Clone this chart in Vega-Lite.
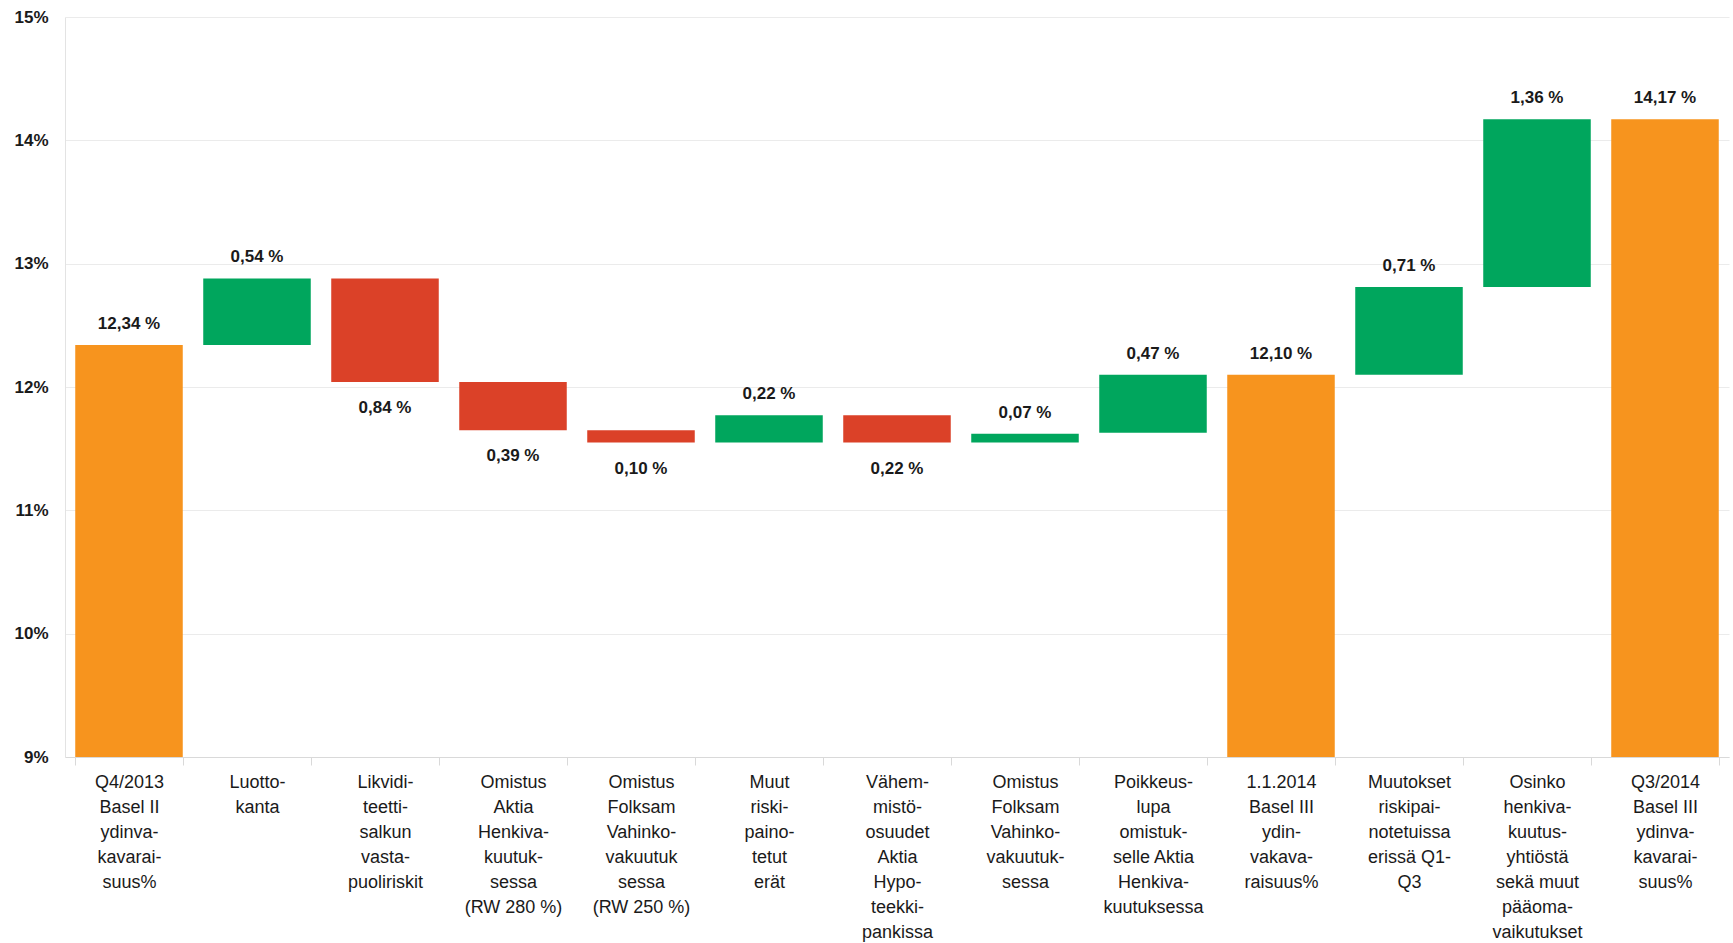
{
  "$schema": "https://vega.github.io/schema/vega-lite/v6.json",
  "width": 1664,
  "height": 740,
  "autosize": {"type": "none"},
  "padding": {"left": 65, "top": 17, "right": 4, "bottom": 186},
  "background": "white",
  "config": {"view": {"stroke": null}, "font": "Liberation Sans"},
  "data": {
    "values": [
      {"cat": "Q4/2013|Basel II|ydinva-|kavarai-|suus%", "start": 0, "end": 12.34, "kind": "total", "lbl": "12,34 %"},
      {"cat": "Luotto-|kanta", "start": 12.34, "end": 12.88, "kind": "pos", "lbl": "0,54 %"},
      {"cat": "Likvidi-|teetti-|salkun|vasta-|puoliriskit", "start": 12.88, "end": 12.04, "kind": "neg", "lbl": "0,84 %"},
      {"cat": "Omistus|Aktia|Henkiva-|kuutuk-|sessa|(RW 280 %)", "start": 12.04, "end": 11.65, "kind": "neg", "lbl": "0,39 %"},
      {"cat": "Omistus|Folksam|Vahinko-|vakuutuk|sessa|(RW 250 %)", "start": 11.65, "end": 11.55, "kind": "neg", "lbl": "0,10 %"},
      {"cat": "Muut|riski-|paino-|tetut|erät", "start": 11.55, "end": 11.77, "kind": "pos", "lbl": "0,22 %"},
      {"cat": "Vähem-|mistö-|osuudet|Aktia|Hypo-|teekki-|pankissa", "start": 11.77, "end": 11.55, "kind": "neg", "lbl": "0,22 %"},
      {"cat": "Omistus|Folksam|Vahinko-|vakuutuk-|sessa", "start": 11.55, "end": 11.62, "kind": "pos", "lbl": "0,07 %"},
      {"cat": "Poikkeus-|lupa|omistuk-|selle Aktia|Henkiva-|kuutuksessa", "start": 11.63, "end": 12.10, "kind": "pos", "lbl": "0,47 %"},
      {"cat": "1.1.2014|Basel III|ydin-|vakava-|raisuus%", "start": 0, "end": 12.10, "kind": "total", "lbl": "12,10 %"},
      {"cat": "Muutokset|riskipai-|notetuissa|erissä Q1-|Q3", "start": 12.10, "end": 12.81, "kind": "pos", "lbl": "0,71 %"},
      {"cat": "Osinko|henkiva-|kuutus-|yhtiöstä|sekä muut|pääoma-|vaikutukset", "start": 12.81, "end": 14.17, "kind": "pos", "lbl": "1,36 %"},
      {"cat": "Q3/2014|Basel III|ydinva-|kavarai-|suus%", "start": 0, "end": 14.17, "kind": "total", "lbl": "14,17 %"}
    ]
  },
  "encoding": {
    "x": {
      "field": "cat",
      "type": "nominal",
      "sort": null,
      "scale": {"paddingInner": 0.16, "paddingOuter": 0.08},
      "axis": {
        "title": null,
        "labelAngle": 0,
        "labelExpr": "isString(datum.value) ? split(datum.value, '|') : ''",
        "labelFont": "Liberation Sans",
        "labelFontSize": 18,
        "labelLineHeight": 25,
        "labelBaseline": "top",
        "labelPadding": 8,
        "labelColor": "#1a1a1a",
        "labelLimit": 200,
        "tickBand": "extent",
        "tickSize": 8,
        "tickColor": "#d9d9d9",
        "domainColor": "#d9d9d9",
        "grid": false
      }
    }
  },
  "layer": [
    {
      "mark": {"type": "bar"},
      "encoding": {
        "y": {
          "field": "start",
          "type": "quantitative",
          "scale": {"domain": [9, 15], "clamp": true, "zero": false},
          "axis": {
            "title": null,
            "values": [9, 10, 11, 12, 13, 14, 15],
            "labelExpr": "datum.value + '%'",
            "labelFont": "Liberation Sans",
            "labelFontSize": 17,
            "labelFontWeight": "bold",
            "labelColor": "#1a1a1a",
            "labelPadding": 17,
            "ticks": false,
            "grid": true,
            "gridColor": "#ebebeb",
            "domainColor": "#e3e3e3"
          }
        },
        "y2": {"field": "end"},
        "color": {
          "field": "kind",
          "type": "nominal",
          "scale": {"domain": ["total", "pos", "neg"], "range": ["#F7941E", "#00A65D", "#DB4128"]},
          "legend": null
        }
      }
    },
    {
      "transform": [{"filter": "datum.kind != 'neg'"}],
      "mark": {"type": "text", "baseline": "bottom", "dy": -12, "fontSize": 17, "fontWeight": "bold", "color": "#1a1a1a", "font": "Liberation Sans"},
      "encoding": {
        "y": {"field": "end", "type": "quantitative"},
        "text": {"field": "lbl"}
      }
    },
    {
      "transform": [{"filter": "datum.kind == 'neg'"}],
      "mark": {"type": "text", "baseline": "top", "dy": 18, "fontSize": 17, "fontWeight": "bold", "color": "#1a1a1a", "font": "Liberation Sans"},
      "encoding": {
        "y": {"field": "end", "type": "quantitative"},
        "text": {"field": "lbl"}
      }
    }
  ]
}
